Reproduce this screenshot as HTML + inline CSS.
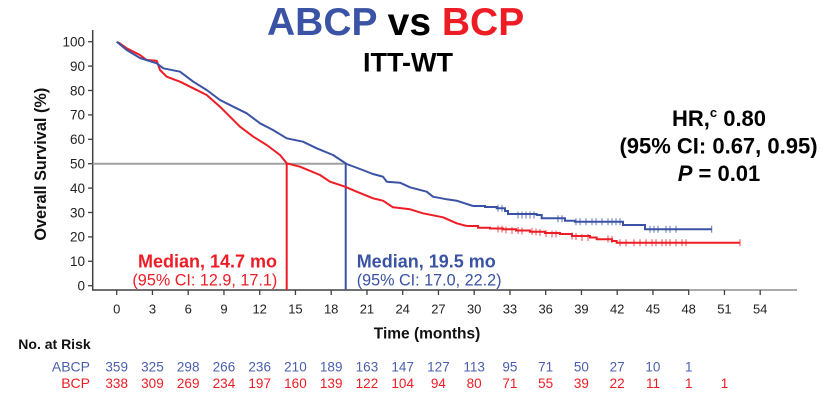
<!DOCTYPE html>
<html><head><meta charset="utf-8"><style>
html,body{margin:0;padding:0;background:#fff;}
svg{display:block;font-family:"Liberation Sans",Arial,sans-serif;}
</style></head><body>
<svg width="831" height="400" viewBox="0 0 831 400" xmlns="http://www.w3.org/2000/svg">
<rect width="831" height="400" fill="#fff"/>
<!-- Title -->
<text x="267" y="35" font-size="39" font-weight="bold"><tspan fill="#3a53a4">ABCP</tspan><tspan fill="#000"> vs </tspan><tspan fill="#ee1c25">BCP</tspan></text>
<text x="363" y="71.7" font-size="27" font-weight="bold" fill="#000">ITT-WT</text>
<!-- HR block -->
<text x="719" y="126" font-size="22" font-weight="bold" text-anchor="middle" fill="#000">HR,<tspan font-size="13" dy="-9">c</tspan><tspan dy="9"> 0.80</tspan></text>
<text x="718.5" y="153.5" font-size="22" font-weight="bold" text-anchor="middle" fill="#000">(95% CI: 0.67, 0.95)</text>
<text x="719" y="181" font-size="22" font-weight="bold" text-anchor="middle" fill="#000"><tspan font-style="italic">P</tspan> = 0.01</text>
<!-- Y axis -->
<line x1="92.7" y1="30" x2="92.7" y2="290" stroke="#404040" stroke-width="1.5"/>
<g stroke="#404040" stroke-width="1.3">
<line x1="88" y1="41.7" x2="92.7" y2="41.7"/><line x1="88" y1="66.1" x2="92.7" y2="66.1"/><line x1="88" y1="90.5" x2="92.7" y2="90.5"/><line x1="88" y1="114.9" x2="92.7" y2="114.9"/><line x1="88" y1="139.3" x2="92.7" y2="139.3"/><line x1="88" y1="163.7" x2="92.7" y2="163.7"/><line x1="88" y1="188.1" x2="92.7" y2="188.1"/><line x1="88" y1="212.5" x2="92.7" y2="212.5"/><line x1="88" y1="236.9" x2="92.7" y2="236.9"/><line x1="88" y1="261.3" x2="92.7" y2="261.3"/><line x1="88" y1="285.7" x2="92.7" y2="285.7"/>
</g>
<g font-size="13.5" fill="#222" text-anchor="end">
<text x="85" y="46.5">100</text><text x="85" y="70.9">90</text><text x="85" y="95.3">80</text><text x="85" y="119.7">70</text><text x="85" y="144.1">60</text><text x="85" y="168.5">50</text><text x="85" y="192.9">40</text><text x="85" y="217.3">30</text><text x="85" y="241.7">20</text><text x="85" y="266.1">10</text><text x="85" y="290.5">0</text>
</g>
<text transform="translate(46,164.2) rotate(-90)" font-size="16.3" font-weight="bold" text-anchor="middle" fill="#111">Overall Survival (%)</text>
<!-- X axis -->
<line x1="92" y1="290" x2="689" y2="290" stroke="#404040" stroke-width="1.5"/>
<line x1="689" y1="290" x2="797" y2="290" stroke="#777" stroke-width="1.3"/>
<g stroke="#404040" stroke-width="1.3">
<line x1="116.7" y1="290" x2="116.7" y2="295"/><line x1="152.45" y1="290" x2="152.45" y2="295"/><line x1="188.2" y1="290" x2="188.2" y2="295"/><line x1="223.95" y1="290" x2="223.95" y2="295"/><line x1="259.7" y1="290" x2="259.7" y2="295"/><line x1="295.45" y1="290" x2="295.45" y2="295"/><line x1="331.2" y1="290" x2="331.2" y2="295"/><line x1="366.95" y1="290" x2="366.95" y2="295"/><line x1="402.7" y1="290" x2="402.7" y2="295"/><line x1="438.45" y1="290" x2="438.45" y2="295"/><line x1="474.2" y1="290" x2="474.2" y2="295"/><line x1="509.95" y1="290" x2="509.95" y2="295"/><line x1="545.7" y1="290" x2="545.7" y2="295"/><line x1="581.45" y1="290" x2="581.45" y2="295"/><line x1="617.2" y1="290" x2="617.2" y2="295"/><line x1="652.95" y1="290" x2="652.95" y2="295"/><line x1="688.7" y1="290" x2="688.7" y2="295"/><line x1="724.45" y1="290" x2="724.45" y2="295"/><line x1="760.2" y1="290" x2="760.2" y2="295"/>
</g>
<g font-size="13" fill="#222" text-anchor="middle">
<text x="116.7" y="313.3">0</text><text x="152.45" y="313.3">3</text><text x="188.2" y="313.3">6</text><text x="223.95" y="313.3">9</text><text x="259.7" y="313.3">12</text><text x="295.45" y="313.3">15</text><text x="331.2" y="313.3">18</text><text x="366.95" y="313.3">21</text><text x="402.7" y="313.3">24</text><text x="438.45" y="313.3">27</text><text x="474.2" y="313.3">30</text><text x="509.95" y="313.3">33</text><text x="545.7" y="313.3">36</text><text x="581.45" y="313.3">39</text><text x="617.2" y="313.3">42</text><text x="652.95" y="313.3">45</text><text x="688.7" y="313.3">48</text><text x="724.45" y="313.3">51</text><text x="760.2" y="313.3">54</text>
</g>
<text x="427" y="338.7" font-size="15.5" font-weight="bold" text-anchor="middle" fill="#111">Time (months)</text>
<!-- median lines -->
<line x1="92.7" y1="163.7" x2="345.7" y2="163.7" stroke="#a0a0a0" stroke-width="2"/>
<line x1="286.7" y1="163.7" x2="286.7" y2="290" stroke="#ee1c25" stroke-width="2"/>
<line x1="345.7" y1="163.7" x2="345.7" y2="290" stroke="#3a53a4" stroke-width="2"/>
<!-- Curves -->
<polyline fill="none" stroke="#ee1c25" stroke-width="2" stroke-linejoin="round" points="118.3,42.3 126.7,48.3 140,55 146.7,60 156.7,60.7 160,70 166.7,76.7 180,81.7 193.3,88.3 206.7,95 220,106.7 230,116.7 240,126.7 253.3,136.7 266.7,145 280,155 286.7,163.3 300,166.7 320,175 330,181.7 345,186.7 356.7,191.7 373,198.3 383,200.7 393,207.3 410,209.3 423,213.3 443,217.3 456.7,223.3 466.7,226"/>
<path fill="none" stroke="#ee1c25" stroke-width="2" d="M466.7,226 H478 V227.7 H490 V228.5 H503 V229.3 H516 V230.5 H530 V231.7 H545 V233 H560 V234 H572 V236 H590 V237.5 H596.7 V239.3 H612 V241 H616.7 V242.7 H740"/>
<polyline fill="none" stroke="#3a53a4" stroke-width="2" stroke-linejoin="round" points="116.7,41.7 126.7,50 140,58 156.7,63.3 163.3,68.3 180,71.7 193.3,81.7 206.7,90 220,100 233.3,106.7 246.7,113.3 260,123.3 273,130 286.7,138.3 303,141.7 316.7,148.3 333,155 346.7,164 360,169 373,174 383,176.7 386.7,181.7 400,182.7 410,187.3 426.7,191.7 433,196.7 446.7,199.3 456.7,200.7 473,206"/>
<path fill="none" stroke="#3a53a4" stroke-width="2" d="M473,206 H485 V207 H496.7 V208.3 H505 V211 H508 V214 H536.7 V215 H541.7 V218.3 H565 V220.7 H575 V221.7 H623 V225 H645 V229.3 H711.7"/>
<!-- censor marks -->
<path fill="none" stroke="#ee1c25" stroke-width="1" opacity="0.8" d="M498,225.5v7M502,225.5v7M506,226.5v7M512,227v7M518,227v7M522,227.5v7M532,228v7M536,228.5v7M540,229v7M546,230v7M552,230.5v7M556,230.5v7M572,232.5v7M576,233v7M582,234v7M588,234v7M608,235.5v7M612,236v7M620,239.2v7M626,239.2v7M634,239.2v7M640,239.2v7M646,239.2v7M652,239.2v7M656,239.2v7M662,239.2v7M666,239.2v7M670,239.2v7M676,239.2v7M682,239.2v7M686,239.2v7M740,239.2v7"/>
<path fill="none" stroke="#3a53a4" stroke-width="1" opacity="0.8" d="M498,204.8v7M502,204.8v7M518,211.5v7M522,211.5v7M526,211.5v7M530,211.5v7M534,211.5v7M558,215.2v7M562,215.2v7M576,218.2v7M580,218.2v7M586,218.2v7M592,218.2v7M596,218.2v7M602,218.2v7M608,218.2v7M612,218.2v7M616,218.2v7M620,218.2v7M650,225.8v7M654,225.8v7M658,225.8v7M666,225.8v7M670,225.8v7M676,225.8v7M711.7,225.8v7"/>
<!-- Median text -->
<text x="277" y="267.3" font-size="18" font-weight="bold" text-anchor="end" fill="#ee1c25">Median, 14.7 mo</text>
<text x="277.3" y="285.7" font-size="16.2" text-anchor="end" fill="#ee1c25">(95% CI: 12.9, 17.1)</text>
<text x="356.7" y="267.3" font-size="18" font-weight="bold" fill="#3a53a4">Median, 19.5 mo</text>
<text x="356.7" y="285.7" font-size="16.2" fill="#3a53a4">(95% CI: 17.0, 22.2)</text>
<!-- Risk table -->
<text x="18.3" y="349" font-size="14" font-weight="bold" fill="#111">No. at Risk</text>
<text x="90" y="371.5" font-size="14" text-anchor="end" fill="#4a5fae">ABCP</text>
<text x="90" y="388" font-size="14" text-anchor="end" fill="#ee1c25">BCP</text>
<g font-size="13.5" text-anchor="middle" fill="#4a5fae">
<text x="116.7" y="371.5">359</text><text x="152.45" y="371.5">325</text><text x="188.2" y="371.5">298</text><text x="223.95" y="371.5">266</text><text x="259.7" y="371.5">236</text><text x="295.45" y="371.5">210</text><text x="331.2" y="371.5">189</text><text x="366.95" y="371.5">163</text><text x="402.7" y="371.5">147</text><text x="438.45" y="371.5">127</text><text x="474.2" y="371.5">113</text><text x="509.95" y="371.5">95</text><text x="545.7" y="371.5">71</text><text x="581.45" y="371.5">50</text><text x="617.2" y="371.5">27</text><text x="652.95" y="371.5">10</text><text x="688.7" y="371.5">1</text>
</g>
<g font-size="13.5" text-anchor="middle" fill="#ee1c25">
<text x="116.7" y="388">338</text><text x="152.45" y="388">309</text><text x="188.2" y="388">269</text><text x="223.95" y="388">234</text><text x="259.7" y="388">197</text><text x="295.45" y="388">160</text><text x="331.2" y="388">139</text><text x="366.95" y="388">122</text><text x="402.7" y="388">104</text><text x="438.45" y="388">94</text><text x="474.2" y="388">80</text><text x="509.95" y="388">71</text><text x="545.7" y="388">55</text><text x="581.45" y="388">39</text><text x="617.2" y="388">22</text><text x="652.95" y="388">11</text><text x="688.7" y="388">1</text><text x="724.45" y="388">1</text>
</g>
</svg>
</body></html>
